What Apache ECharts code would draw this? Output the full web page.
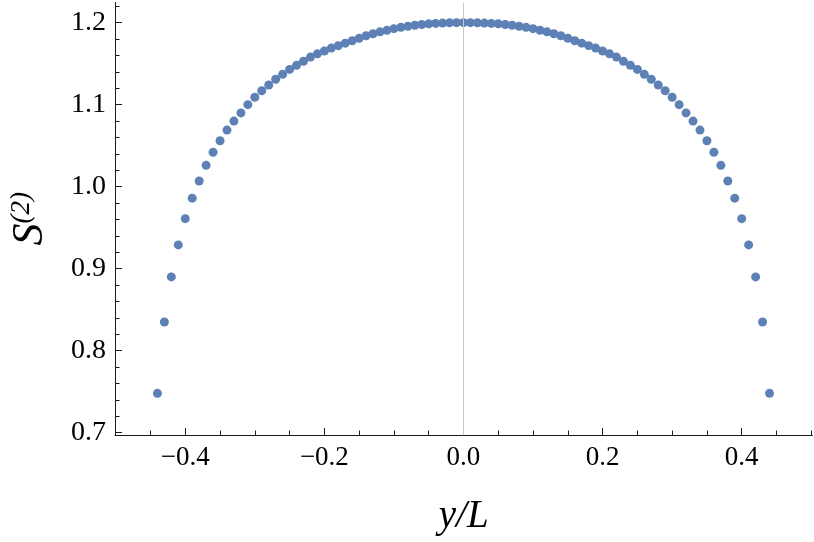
<!DOCTYPE html>
<html><head><meta charset="utf-8">
<script src="https://cdn.jsdelivr.net/npm/echarts@6/dist/echarts.min.js"></script>
<style>html,body{margin:0;padding:0;background:#fff}#c{width:814px;height:542px}</style>
</head><body><div id="c"></div>
<script>
const xValues = [-0.44,-0.43,-0.42,-0.41,-0.40,-0.39,-0.38,-0.37,-0.36,-0.35,-0.34,-0.33,-0.32,-0.31,-0.30,
  -0.29,-0.28,-0.27,-0.26,-0.25,-0.24,-0.23,-0.22,-0.21,-0.20,-0.19,-0.18,-0.17,-0.16,-0.15,
  -0.14,-0.13,-0.12,-0.11,-0.10,-0.09,-0.08,-0.07,-0.06,-0.05,-0.04,-0.03,-0.02,-0.01,0.00,
  0.01,0.02,0.03,0.04,0.05,0.06,0.07,0.08,0.09,0.10,0.11,0.12,0.13,0.14,0.15,
  0.16,0.17,0.18,0.19,0.20,0.21,0.22,0.23,0.24,0.25,0.26,0.27,0.28,0.29,0.30,
  0.31,0.32,0.33,0.34,0.35,0.36,0.37,0.38,0.39,0.40,0.41,0.42,0.43,0.44];
const sValues = [0.748,0.835,0.890,0.929,0.961,0.986,1.007,1.026,1.042,1.056,1.069,1.080,1.090,1.100,1.109,
  1.117,1.124,1.131,1.137,1.143,1.148,1.153,1.158,1.162,1.1655,1.169,1.172,1.175,1.178,1.181,
  1.184,1.1865,1.1888,1.1908,1.1927,1.1943,1.1957,1.1969,1.1978,1.1986,1.1991,1.1995,1.1998,1.2,1.2,
  1.2,1.1998,1.1995,1.1991,1.1986,1.1978,1.1969,1.1957,1.1943,1.1927,1.1908,1.1888,1.1865,1.184,1.181,
  1.178,1.175,1.172,1.169,1.1655,1.162,1.158,1.153,1.148,1.143,1.137,1.131,1.124,1.117,1.109,
  1.100,1.090,1.080,1.069,1.056,1.042,1.026,1.007,0.986,0.961,0.929,0.890,0.835,0.748];
const xTickLabels = [-0.4,-0.2,0,0.2,0.4];
const xMinorTicks = [-0.5,-0.45,-0.35,-0.3,-0.25,-0.15,-0.1,-0.05,0.05,0.1,0.15,0.25,0.3,0.35,0.45,0.5];
const yTickLabels = [0.7,0.8,0.9,1.0,1.1,1.2];
const yMinorTicks = [0.72,0.74,0.76,0.78,0.82,0.84,0.86,0.88,0.92,0.94,0.96,0.98,
  1.02,1.04,1.06,1.08,1.12,1.14,1.16,1.18,1.22];

const serif = "'Liberation Serif', 'DejaVu Serif', serif";
const axisColor = '#1a1a1a';
const fmt = v => (v < -1e-9 ? '\u2212' : '') + Math.abs(v).toFixed(1);
const xMin = -0.501, xMax = 0.5015, yMin = 0.6972, yMax = 1.2246;

const chart = echarts.init(document.getElementById('c'), null, {renderer: 'canvas'});
chart.setOption({
  animation: false,
  backgroundColor: '#fff',
  grid: {left: 108, right: 1.7, top: 2.5, bottom: 107, containLabel: false},
  xAxis: [{
    type: 'value', min: xMin, max: xMax, position: 'bottom',
    axisLine: {show: true, onZero: false, lineStyle: {color: axisColor, width: 1}},
    axisTick: {show: true, inside: true, length: 7, customValues: xTickLabels, lineStyle: {color: axisColor, width: 1}},
    axisLabel: {customValues: xTickLabels, formatter: fmt, fontFamily: serif, fontSize: 27, color: '#000', margin: 9},
    splitLine: {show: false},
    name: 'y/L', nameLocation: 'middle', nameGap: 62,
    nameTextStyle: {fontFamily: serif, fontStyle: 'italic', fontSize: 39, color: '#000'}
  }, {
    type: 'value', min: xMin, max: xMax, position: 'bottom',
    axisLine: {show: false, onZero: false},
    axisTick: {show: true, inside: true, length: 4.5, customValues: xMinorTicks, lineStyle: {color: axisColor, width: 1}},
    axisLabel: {show: false}, splitLine: {show: false}
  }],
  yAxis: [{
    type: 'value', min: yMin, max: yMax, position: 'left',
    axisLine: {show: true, onZero: false, lineStyle: {color: axisColor, width: 1}},
    axisTick: {show: true, inside: true, length: 7, customValues: yTickLabels, lineStyle: {color: axisColor, width: 1}},
    axisLabel: {customValues: yTickLabels, formatter: fmt, fontFamily: serif, fontSize: 28, color: '#000', margin: 9},
    splitLine: {show: false},
    name: '{s|S}{p|(2)}', nameLocation: 'middle', nameGap: 63, nameRotate: 90,
    nameTextStyle: {
      color: '#000',
      rich: {
        s: {fontFamily: serif, fontStyle: 'italic', fontSize: 44, color: '#000'},
        p: {fontFamily: serif, fontStyle: 'italic', fontSize: 27, color: '#000', verticalAlign: 'top'}
      }
    }
  }, {
    type: 'value', min: yMin, max: yMax, position: 'left',
    axisLine: {show: false, onZero: false},
    axisTick: {show: true, inside: true, length: 4.5, customValues: yMinorTicks, lineStyle: {color: axisColor, width: 1}},
    axisLabel: {show: false}, splitLine: {show: false}
  }],
  series: [{
    type: 'scatter', xAxisIndex: 0, yAxisIndex: 0,
    data: xValues.map((x, i) => [x, sValues[i]]),
    symbol: 'circle', symbolSize: 9,
    itemStyle: {color: '#5E81B5', opacity: 1},
    markLine: {
      silent: true, symbol: 'none', label: {show: false},
      lineStyle: {color: '#c8c8c8', width: 1, type: 'solid'},
      data: [{xAxis: 0}]
    }
  }]
});
</script></body></html>
